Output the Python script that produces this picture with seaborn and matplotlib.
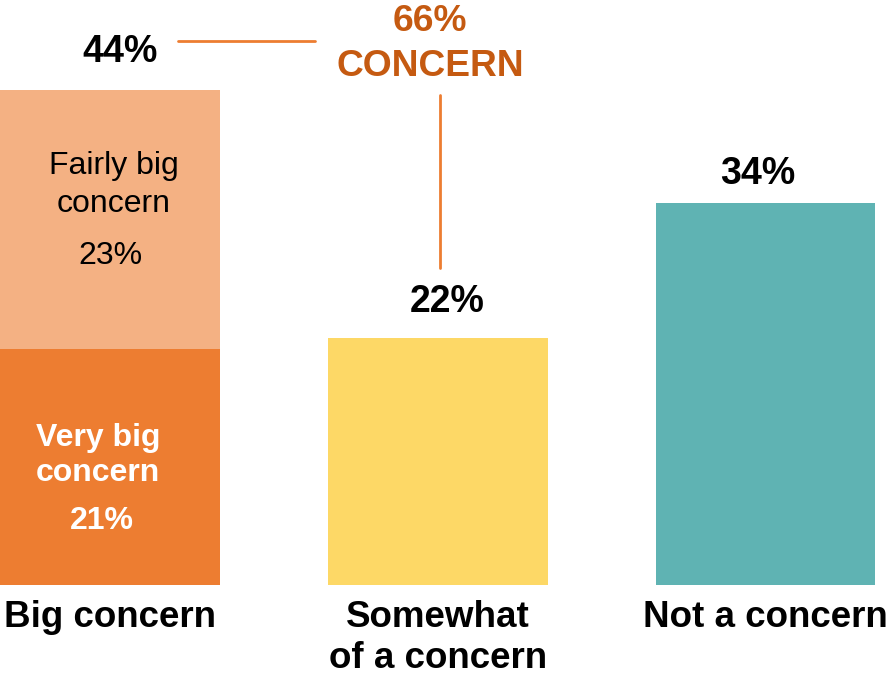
import matplotlib
matplotlib.use("Agg")
import matplotlib.pyplot as plt
import seaborn as sns
import pandas as pd

categories = ["Big concern", "Somewhat\nof a concern", "Not a concern"]
totals = [44, 22, 34]
very_big = 21
fairly_big = 23
total_concern = 66

col_fairly = "#F4B183"
col_very = "#ED7D31"
col_some = "#FDD866"
col_not = "#5FB3B3"
col_concern = "#C55A11"

sns.set_theme(style="white")
plt.rcParams["font.family"] = ["Liberation Sans", "DejaVu Sans"]

W, H = 889, 678
fig = plt.figure(figsize=(W / 100, H / 100), dpi=100)
base_px = 585
ax = fig.add_axes([0, (H - base_px) / H, 1, base_px / H])

df = pd.DataFrame({"cat": categories, "val": totals})
sns.barplot(data=df, x="cat", y="val", hue="cat", order=categories,
            palette=[col_fairly, col_some, col_not], width=0.67,
            legend=False, ax=ax, saturation=1, linewidth=0)
df2 = pd.DataFrame({"cat": [categories[0]], "val": [very_big]})
sns.barplot(data=df2, x="cat", y="val", order=categories, color=col_very,
            width=0.67, ax=ax, saturation=1, linewidth=0)

px_per_unit = 327.75
x_left = -110 / px_per_unit
ax.set_xlim(x_left, x_left + W / px_per_unit)
ppv = 11.24
ax.set_ylim(0, base_px / ppv)

for s in ax.spines.values():
    s.set_visible(False)
ax.set_yticks([])
ax.set_xlabel("")
ax.set_ylabel("")
ax.set_xticks(range(3))
ax.set_xticklabels(categories, fontsize=26.5, fontweight="bold", color="black",
                   linespacing=1.2)
ax.tick_params(axis="x", length=0, pad=11)

def px2x(px):
    return x_left + px / px_per_unit

def py2y(py):
    return (base_px - py) / ppv

# Value labels above bars
ax.text(px2x(120), py2y(52), f"{totals[0]}%", ha="center", va="center",
        fontsize=27, fontweight="bold", color="black")
ax.text(px2x(447), py2y(302), f"{totals[1]}%", ha="center", va="center",
        fontsize=27, fontweight="bold", color="black")
ax.text(px2x(758), py2y(174), f"{totals[2]}%", ha="center", va="center",
        fontsize=27, fontweight="bold", color="black")

# Inside labels
ax.text(px2x(114), py2y(185), "Fairly big\nconcern", ha="center", va="center",
        fontsize=23, color="black", linespacing=1.32)
ax.text(px2x(110), py2y(256), f"{fairly_big}%", ha="center", va="center",
        fontsize=23, color="black")
ax.text(px2x(98), py2y(455.5), "Very big\nconcern", ha="center", va="center",
        fontsize=23, fontweight="bold", color="white", linespacing=1.26)
ax.text(px2x(102), py2y(521), f"{very_big}%", ha="center", va="center",
        fontsize=23, fontweight="bold", color="white")

# Concern annotation
ax.text(px2x(430), py2y(44), f"{total_concern}%\nCONCERN", ha="center",
        va="center", fontsize=26.7, fontweight="bold", color=col_concern,
        linespacing=1.36)
ax.plot([px2x(178), px2x(315)], [py2y(41), py2y(41)], color=col_very, lw=2,
        clip_on=False)
ax.plot([px2x(440), px2x(440)], [py2y(95), py2y(268)], color=col_very, lw=2,
        clip_on=False)

fig.savefig("out.png", dpi=100)
